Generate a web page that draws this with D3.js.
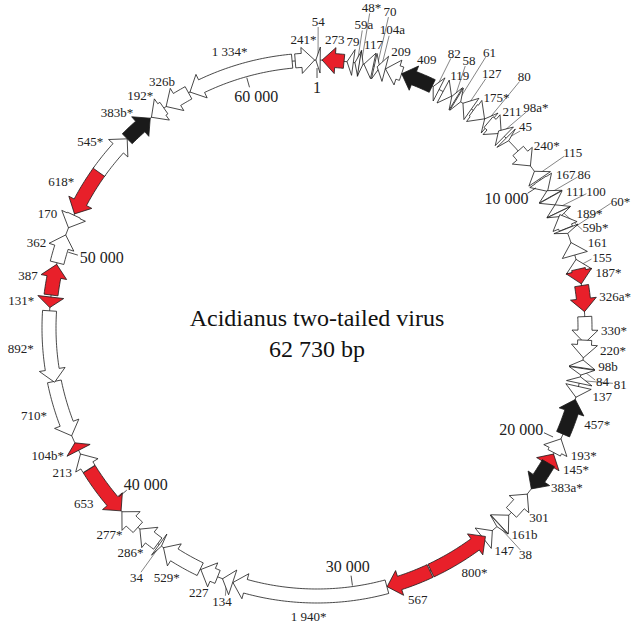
<!DOCTYPE html>
<html>
<head>
<meta charset="utf-8">
<script src="https://cdnjs.cloudflare.com/ajax/libs/d3/7.8.5/d3.min.js"></script>
<style>
  body { margin: 0; background: #fff; }
  svg { display: block; font-family: "Liberation Serif", "Times New Roman", serif; }
</style>
</head>
<body>
<div id="map"></div>
<script>
var svgWidth = 632;
var svgHeight = 626;

var genomeLength = 62730;

// ORFs, clockwise from position 1 (start in bp, length in aa, strand +1 = clockwise)
var orfNames = ["273", "79", "59a", "48*", "117", "70", "104a", "209", "409", "82",
    "119", "58", "61", "127", "175*", "80", "211", "98a*", "45", "240*",
    "115", "167", "86", "111", "100", "59b*", "189*", "60*", "161", "155",
    "187*", "326a*", "330*", "220*", "98b", "84", "81", "137", "457*", "193*",
    "145*", "383a*", "301", "161b", "38", "147", "800*", "567", "1 940*", "134",
    "227", "529*", "34", "286*", "277*", "653", "213", "104b*", "710*", "892*",
    "131*", "387", "362", "170", "618*", "545*", "383b*", "192*", "326b", "1 334*",
    "241*", "54"];
var orfStarts = [190, 1120, 1418, 1584, 1758, 2150, 2260, 2580, 3210, 4477,
    4892, 5263, 5468, 5750, 6218, 6748, 6934, 7433, 7823, 8476,
    9447, 9840, 10311, 10584, 10915, 11222, 11322, 11900, 12444, 13098,
    13470, 14096, 15258, 16136, 16877, 17194, 17512, 17881, 18378, 19940,
    20570, 20962, 22358, 23404, 23903, 24244, 24580, 27020, 28730, 34560,
    35160, 35867, 37549, 37716, 38674, 39550, 41520, 42314, 42915, 45012,
    47810, 48280, 49502, 50875, 51438, 53237, 54875, 56082, 56760, 57800,
    61918, 62687];
var orfAa = [273, 79, 59, 48, 117, 70, 104, 209, 409, 82,
    119, 58, 61, 127, 175, 80, 211, 98, 45, 240,
    115, 167, 86, 111, 100, 59, 189, 60, 161, 155,
    187, 326, 330, 220, 98, 84, 81, 137, 457, 193,
    145, 383, 301, 161, 38, 147, 800, 567, 1940, 134,
    227, 529, 34, 286, 277, 653, 213, 104, 710, 892,
    131, 387, 362, 170, 618, 545, 383, 192, 326, 1334,
    241, 54];
var orfStrands = [-1, -1, -1, 1, -1, 1, -1, -1, -1, -1,
    1, -1, 1, -1, 1, -1, 1, -1, 1, 1,
    -1, 1, -1, 1, -1, 1, -1, 1, -1, -1,
    1, 1, 1, 1, -1, 1, -1, 1, -1, -1,
    -1, 1, -1, -1, 1, -1, -1, 1, 1, 1,
    1, 1, -1, 1, 1, -1, 1, 1, -1, -1,
    -1, 1, 1, -1, -1, 1, 1, -1, -1, -1,
    1, -1];
// "w" open, "r" red, "k" black
var orfGroups = ["r", "w", "w", "w", "w", "w", "w", "w", "k", "w",
    "w", "w", "w", "w", "w", "w", "w", "w", "w", "w",
    "w", "w", "w", "w", "w", "w", "w", "w", "w", "w",
    "r", "r", "w", "w", "w", "w", "w", "w", "k", "w",
    "r", "k", "w", "w", "w", "w", "r", "r", "w", "w",
    "w", "w", "w", "w", "w", "r", "w", "r", "w", "w",
    "r", "r", "w", "w", "r", "w", "k", "w", "w", "w",
    "w", "w"];

var tickValues = [1, 10000, 20000, 30000, 40000, 50000, 60000];
var tickLabels = ["1", "10 000", "20 000", "30 000", "40 000", "50 000", "60 000"];

var titleLines = ["Acidianus two-tailed virus", "62 730 bp"];

// geometry
var cx = 317, cy = 328, R = 268;
var bodyHalf = 7, headHalf = 13, headLen = 13;
var fills = { w: "#ffffff", r: "#e8202a", k: "#1a1a1a" };

var angle = d3.scaleLinear()
    .domain([0, genomeLength])
    .range([0, 2 * Math.PI]);

function pt(a, rr) {
    return [cx + rr * Math.sin(a), cy - rr * Math.cos(a)];
}

function arcPts(aFrom, aTo, rr) {
    var n = Math.max(2, Math.ceil(Math.abs(aTo - aFrom) * rr / 3));
    var out = [];
    for (var i = 0; i <= n; i++) out.push(pt(aFrom + (aTo - aFrom) * i / n, rr));
    return out;
}

// block arrow along the ring
function arrowPath(d) {
    var a0 = angle(d.start), a1 = angle(d.start + d.aa * 3);
    var span = a1 - a0;
    var hA = headLen / R;
    var tail = d.strand > 0 ? a0 : a1;
    var tip = d.strand > 0 ? a1 : a0;
    var pts;
    if (span <= hA) {
        pts = [pt(tail, R + headHalf), pt(tip, R), pt(tail, R - headHalf)];
    } else {
        var neck = d.strand > 0 ? a1 - hA : a0 + hA;
        pts = arcPts(tail, neck, R + bodyHalf)
            .concat([pt(neck, R + headHalf), pt(tip, R), pt(neck, R - headHalf)])
            .concat(arcPts(neck, tail, R - bodyHalf));
    }
    return d3.line()(pts) + "Z";
}

var orfs = orfNames.map(function (name, i) {
    return {
        name: name,
        start: orfStarts[i],
        aa: orfAa[i],
        strand: orfStrands[i],
        group: orfGroups[i],
        mid: angle(orfStarts[i] + orfAa[i] * 1.5)
    };
});

var svg = d3.select("#map")
    .append("svg")
    .attr("width", svgWidth)
    .attr("height", svgHeight);

svg.append("rect")
    .attr("width", svgWidth)
    .attr("height", svgHeight)
    .attr("fill", "#fff");

// backbone
svg.append("circle")
    .attr("cx", cx)
    .attr("cy", cy)
    .attr("r", R)
    .attr("fill", "none")
    .attr("stroke", "#222")
    .attr("stroke-width", 0.8);

var leaderGroup = svg.append("g");

// arrows
svg.append("g")
    .selectAll("path")
    .data(orfs)
    .enter()
    .append("path")
    .attr("d", arrowPath)
    .attr("fill", d => fills[d.group])
    .attr("stroke", "#1a1a1a")
    .attr("stroke-width", 0.8)
    .attr("stroke-linejoin", "miter");

// position ticks inside the ring
var ticks = tickValues.map((v, i) => ({ v: v, label: tickLabels[i], a: angle(v) }));

svg.append("g")
    .selectAll("line")
    .data(ticks)
    .enter()
    .append("line")
    .attr("x1", d => pt(d.a, R - 18)[0])
    .attr("y1", d => pt(d.a, R - 18)[1])
    .attr("x2", d => pt(d.a, R - 8)[0])
    .attr("y2", d => pt(d.a, R - 8)[1])
    .attr("stroke", "#222")
    .attr("stroke-width", 0.8);

var tickText = svg.append("g")
    .selectAll("text")
    .data(ticks)
    .enter()
    .append("text")
    .attr("font-size", 16)
    .attr("text-anchor", "middle")
    .attr("dy", "0.35em")
    .attr("fill", "#222")
    .text(d => d.label);

tickText.each(function (d) {
    var w = this.getComputedTextLength(), h = 12;
    var ux = Math.sin(d.a), uy = -Math.cos(d.a);
    var p = pt(d.a, R - 21);
    d3.select(this)
        .attr("x", p[0] - ux * w / 2)
        .attr("y", p[1] - uy * h / 2);
});

// ORF labels outside the ring, placed greedily to avoid overlaps
var tiers = [284, 302, 320];
var labelH = 14;
var placed = [];

var labels = svg.append("g")
    .selectAll("text")
    .data(orfs)
    .enter()
    .append("text")
    .attr("font-size", 13)
    .attr("text-anchor", "middle")
    .attr("dy", "0.35em")
    .attr("fill", "#222")
    .text(d => d.name);

labels.each(function (d) { d.w = this.getComputedTextLength(); });

function boxAt(a, rr, w, h) {
    var ux = Math.sin(a), uy = -Math.cos(a);
    var p = pt(a, rr);
    var mx = p[0] + ux * w / 2, my = p[1] + uy * (h - 4) / 2;
    return { x0: mx - w / 2, x1: mx + w / 2, y0: my - h / 2, y1: my + h / 2, mx: mx, my: my };
}

function hits(b) {
    return placed.some(p => b.x0 < p.x1 + 1.5 && b.x1 > p.x0 - 1.5 && b.y0 < p.y1 && b.y1 > p.y0);
}

var order = orfs.slice().sort((a, b) => b.aa - a.aa);
var step = 0.6 * Math.PI / 180;

order.forEach(function (d) {
    var best = null;
    for (var k = 0; k <= 80; k++) {
        var n = Math.ceil(k / 2);
        var s = (k % 2 ? 1 : -1) * n * step;
        for (var t = 0; t < tiers.length; t++) {
            var cost = n * 0.6 + t * 1.6;
            if (best && cost >= best.cost) continue;
            var b = boxAt(d.mid + s, tiers[t], d.w, labelH);
            if (b.x0 < 1 || b.x1 > svgWidth - 1 || b.y0 < 0 || b.y1 > svgHeight) continue;
            if (hits(b)) continue;
            best = { cost: cost, b: b, t: t, s: s };
        }
    }
    d.box = best.b;
    d.tier = best.t;
    d.shift = best.s;
    placed.push(best.b);
});

labels
    .attr("x", d => d.box.mx)
    .attr("y", d => d.box.my);

// leader lines for displaced labels
leaderGroup.selectAll("line")
    .data(orfs.filter(d => d.tier > 0 || Math.abs(d.shift) > 1e-6))
    .enter()
    .append("line")
    .attr("x1", d => pt(d.mid, R + 4)[0])
    .attr("y1", d => pt(d.mid, R + 4)[1])
    .attr("x2", d => pt(d.mid + d.shift, tiers[d.tier] - 1)[0])
    .attr("y2", d => pt(d.mid + d.shift, tiers[d.tier] - 1)[1])
    .attr("stroke", "#333")
    .attr("stroke-width", 0.6);

// title in the middle
svg.append("g")
    .selectAll("text")
    .data(titleLines)
    .enter()
    .append("text")
    .attr("x", cx)
    .attr("y", (d, i) => 326 + i * 31)
    .attr("text-anchor", "middle")
    .attr("font-size", 24)
    .attr("fill", "#111")
    .text(d => d);
</script>
</body>
</html>
